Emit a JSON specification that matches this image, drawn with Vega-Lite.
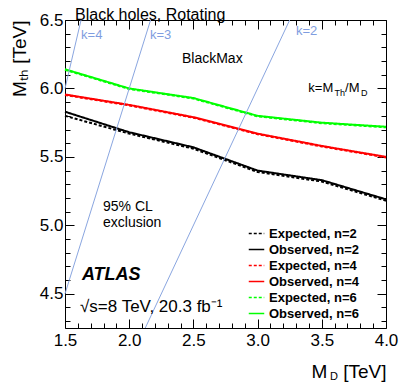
{
  "$schema": "https://vega.github.io/schema/vega-lite/v6.json",
  "width": 321,
  "height": 308,
  "autosize": {"type": "none"},
  "padding": {"left": 65, "top": 20, "right": 21, "bottom": 63},
  "background": "white",
  "config": {
    "font": "Liberation Sans",
    "view": {"stroke": null},
    "axis": {"grid": false, "domainColor": "black", "tickColor": "black", "labelColor": "black", "titleColor": "black", "domainWidth": 1, "tickWidth": 1, "labelFlush": false, "labelOverlap": false, "titleFontWeight": "normal"}
  },
  "title": {"text": "Black holes, Rotating", "anchor": "start", "frame": "group", "fontSize": 16, "fontWeight": "normal", "offset": -12, "dx": 10, "color": "black"},
  "datasets": {
    "curves": [
      {"md": 1.5, "mth": 5.80, "series": "Expected, n=2"},
      {"md": 2.0, "mth": 5.67, "series": "Expected, n=2"},
      {"md": 2.5, "mth": 5.56, "series": "Expected, n=2"},
      {"md": 3.0, "mth": 5.39, "series": "Expected, n=2"},
      {"md": 3.5, "mth": 5.32, "series": "Expected, n=2"},
      {"md": 4.0, "mth": 5.18, "series": "Expected, n=2"},
      {"md": 1.5, "mth": 5.83, "series": "Observed, n=2"},
      {"md": 2.0, "mth": 5.68, "series": "Observed, n=2"},
      {"md": 2.5, "mth": 5.57, "series": "Observed, n=2"},
      {"md": 3.0, "mth": 5.40, "series": "Observed, n=2"},
      {"md": 3.5, "mth": 5.33, "series": "Observed, n=2"},
      {"md": 4.0, "mth": 5.19, "series": "Observed, n=2"},
      {"md": 1.5, "mth": 5.952, "series": "Expected, n=4"},
      {"md": 2.0, "mth": 5.876, "series": "Expected, n=4"},
      {"md": 2.5, "mth": 5.786, "series": "Expected, n=4"},
      {"md": 3.0, "mth": 5.666, "series": "Expected, n=4"},
      {"md": 3.5, "mth": 5.576, "series": "Expected, n=4"},
      {"md": 4.0, "mth": 5.496, "series": "Expected, n=4"},
      {"md": 1.5, "mth": 5.956, "series": "Observed, n=4"},
      {"md": 2.0, "mth": 5.88, "series": "Observed, n=4"},
      {"md": 2.5, "mth": 5.79, "series": "Observed, n=4"},
      {"md": 3.0, "mth": 5.67, "series": "Observed, n=4"},
      {"md": 3.5, "mth": 5.58, "series": "Observed, n=4"},
      {"md": 4.0, "mth": 5.50, "series": "Observed, n=4"},
      {"md": 1.5, "mth": 6.136, "series": "Expected, n=6"},
      {"md": 2.0, "mth": 5.996, "series": "Expected, n=6"},
      {"md": 2.5, "mth": 5.926, "series": "Expected, n=6"},
      {"md": 3.0, "mth": 5.796, "series": "Expected, n=6"},
      {"md": 3.5, "mth": 5.746, "series": "Expected, n=6"},
      {"md": 4.0, "mth": 5.716, "series": "Expected, n=6"},
      {"md": 1.5, "mth": 6.14, "series": "Observed, n=6"},
      {"md": 2.0, "mth": 6.00, "series": "Observed, n=6"},
      {"md": 2.5, "mth": 5.93, "series": "Observed, n=6"},
      {"md": 3.0, "mth": 5.80, "series": "Observed, n=6"},
      {"md": 3.5, "mth": 5.75, "series": "Observed, n=6"},
      {"md": 4.0, "mth": 5.72, "series": "Observed, n=6"}
    ],
    "klines": [
      {"md": 1.5, "mth": 6.0, "k": "k=4"},
      {"md": 1.625, "mth": 6.5, "k": "k=4"},
      {"md": 1.5, "mth": 4.5, "k": "k=3"},
      {"md": 2.1667, "mth": 6.5, "k": "k=3"},
      {"md": 2.125, "mth": 4.25, "k": "k=2"},
      {"md": 3.25, "mth": 6.5, "k": "k=2"}
    ],
    "klabels": [
      {"md": 1.625, "mth": 6.39, "text": "k=4"},
      {"md": 2.162, "mth": 6.39, "text": "k=3"},
      {"md": 3.299, "mth": 6.42, "text": "k=2"}
    ],
    "notes": [
      {"md": 2.411, "mth": 6.215, "text": "BlackMax"},
      {"md": 1.796, "mth": 5.134, "text": "95% CL"},
      {"md": 1.796, "mth": 5.017, "text": "exclusion"}
    ],
    "kdef": [
      {"md": 3.395, "mth": 6.0, "text": "k=M"},
      {"md": 3.681, "mth": 6.0, "text": "/M"}
    ],
    "ksub": [
      {"md": 3.599, "mth": 5.965, "text": "Th"},
      {"md": 3.806, "mth": 5.965, "text": "D"}
    ],
    "atlas": [
      {"md": 1.632, "mth": 4.637, "text": "ATLAS"}
    ],
    "lumi": [
      {"md": 1.617, "mth": 4.404, "text": "√s=8 TeV, 20.3 fb⁻¹"}
    ],
    "xsub": [
      {"md": 3.564, "mth": 4.25, "text": "D"}
    ]
  },
  "resolve": {"axis": {"x": "independent", "y": "independent"}},
  "layer": [
    {
      "data": {"name": "curves"},
      "mark": {"type": "line", "strokeWidth": 2},
      "encoding": {
        "x": {"field": "md", "type": "quantitative", "scale": {"domain": [1.5, 4.0], "nice": false, "zero": false},
          "axis": {"orient": "bottom", "values": [1.5, 2.0, 2.5, 3.0, 3.5, 4.0], "format": ".1f", "tickSize": -9, "labelFontSize": 17, "labelPadding": 13, "title": "M\u00a0\u00a0\u00a0[TeV]", "titleAnchor": "end", "titleAlign": "right", "titleFontSize": 19, "titlePadding": 14}},
        "y": {"field": "mth", "type": "quantitative", "scale": {"domain": [4.25, 6.5], "nice": false, "zero": false},
          "axis": {"orient": "left", "values": [4.5, 5.0, 5.5, 6.0, 6.5], "format": ".1f", "tickSize": -9, "labelFontSize": 17, "labelPadding": 11, "title": "Mₜₕ [TeV]", "titleAnchor": "end", "titleAlign": "right", "titleFontSize": 19, "titlePadding": 10}},
        "color": {"field": "series", "type": "nominal",
          "scale": {"domain": ["Expected, n=2", "Observed, n=2", "Expected, n=4", "Observed, n=4", "Expected, n=6", "Observed, n=6"],
                    "range": ["black", "black", "#ff0000", "#ff0000", "#00ff00", "#00ff00"]},
          "legend": {"title": null, "orient": "none", "legendX": 183, "legendY": 205, "padding": 0, "symbolType": "stroke", "symbolSize": 240, "symbolStrokeWidth": 1.5, "labelFontSize": 13, "labelFontWeight": "bold", "labelColor": "black", "rowPadding": 0, "labelOffset": 4}},
        "strokeDash": {"field": "series", "type": "nominal",
          "scale": {"domain": ["Expected, n=2", "Observed, n=2", "Expected, n=4", "Observed, n=4", "Expected, n=6", "Observed, n=6"],
                    "range": [[3, 2], [1, 0], [3, 2], [1, 0], [3, 2], [1, 0]]}}
      }
    },
    {
      "data": {"name": "klines"},
      "mark": {"type": "line", "strokeWidth": 1, "color": "#8aa6e0"},
      "encoding": {
        "x": {"field": "md", "type": "quantitative", "axis": {"orient": "top", "values": [1.5, 2.0, 2.5, 3.0, 3.5, 4.0], "labels": false, "tickSize": -9, "title": null}},
        "y": {"field": "mth", "type": "quantitative", "axis": {"orient": "right", "values": [4.5, 5.0, 5.5, 6.0, 6.5], "labels": false, "tickSize": -9, "title": null}},
        "detail": {"field": "k"}
      }
    },
    {
      "data": {"name": "notes"},
      "mark": {"type": "text", "fontSize": 14, "baseline": "middle", "align": "left", "color": "black"},
      "encoding": {
        "x": {"field": "md", "type": "quantitative", "axis": {"orient": "bottom", "values": [1.6,1.7,1.8,1.9,2.1,2.2,2.3,2.4,2.6,2.7,2.8,2.9,3.1,3.2,3.3,3.4,3.6,3.7,3.8,3.9], "labels": false, "domain": false, "tickSize": -5, "title": null}},
        "y": {"field": "mth", "type": "quantitative", "axis": {"orient": "left", "values": [4.3,4.4,4.6,4.7,4.8,4.9,5.1,5.2,5.3,5.4,5.6,5.7,5.8,5.9,6.1,6.2,6.3,6.4], "labels": false, "domain": false, "tickSize": -5, "title": null}},
        "text": {"field": "text"}
      }
    },
    {
      "data": {"name": "ksub"},
      "mark": {"type": "text", "fontSize": 9, "baseline": "middle", "align": "left", "color": "black"},
      "encoding": {
        "x": {"field": "md", "type": "quantitative", "axis": {"orient": "top", "values": [1.6,1.7,1.8,1.9,2.1,2.2,2.3,2.4,2.6,2.7,2.8,2.9,3.1,3.2,3.3,3.4,3.6,3.7,3.8,3.9], "labels": false, "domain": false, "tickSize": -5, "title": null}},
        "y": {"field": "mth", "type": "quantitative", "axis": {"orient": "right", "values": [4.3,4.4,4.6,4.7,4.8,4.9,5.1,5.2,5.3,5.4,5.6,5.7,5.8,5.9,6.1,6.2,6.3,6.4], "labels": false, "domain": false, "tickSize": -5, "title": null}},
        "text": {"field": "text"}
      }
    },
    {
      "data": {"name": "kdef"},
      "mark": {"type": "text", "fontSize": 13, "baseline": "middle", "align": "left", "color": "black"},
      "encoding": {
        "x": {"field": "md", "type": "quantitative", "axis": null},
        "y": {"field": "mth", "type": "quantitative", "axis": null},
        "text": {"field": "text"}
      }
    },
    {
      "data": {"name": "klabels"},
      "mark": {"type": "text", "fontSize": 13, "baseline": "middle", "align": "left", "color": "#7f9de0"},
      "encoding": {
        "x": {"field": "md", "type": "quantitative", "axis": null},
        "y": {"field": "mth", "type": "quantitative", "axis": null},
        "text": {"field": "text"}
      }
    },
    {
      "data": {"name": "atlas"},
      "mark": {"type": "text", "fontSize": 18, "fontWeight": "bold", "fontStyle": "italic", "baseline": "middle", "align": "left", "color": "black"},
      "encoding": {
        "x": {"field": "md", "type": "quantitative", "axis": null},
        "y": {"field": "mth", "type": "quantitative", "axis": null},
        "text": {"field": "text"}
      }
    },
    {
      "data": {"name": "lumi"},
      "mark": {"type": "text", "fontSize": 17, "baseline": "middle", "align": "left", "color": "black"},
      "encoding": {
        "x": {"field": "md", "type": "quantitative", "axis": null},
        "y": {"field": "mth", "type": "quantitative", "axis": null},
        "text": {"field": "text"}
      }
    },
    {
      "data": {"name": "xsub"},
      "mark": {"type": "text", "fontSize": 11, "baseline": "middle", "align": "left", "color": "black", "dy": 49, "clip": false},
      "encoding": {
        "x": {"field": "md", "type": "quantitative", "axis": null},
        "y": {"field": "mth", "type": "quantitative", "axis": null},
        "text": {"field": "text"}
      }
    }
  ]
}
